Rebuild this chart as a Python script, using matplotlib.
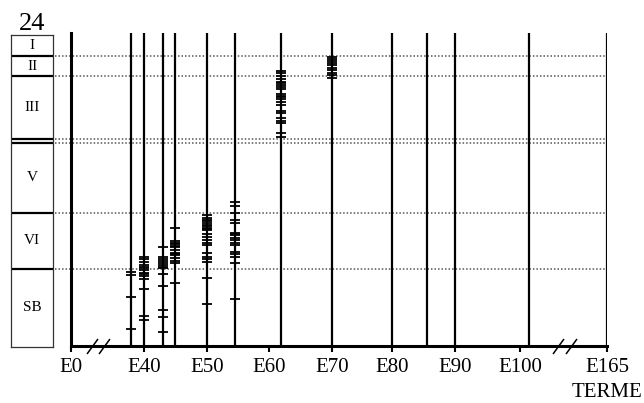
import numpy as np
import matplotlib.pyplot as plt

plt.rcParams['font.family'] = ['Liberation Serif', 'DejaVu Serif']

# vertical lines: one per embryonic day that was sampled
line_days = [38, 40, 43, 45, 50, 54.5, 62, 70, 80, 85.5, 90, 101.5, 165]
tick_days = [0, 40, 50, 60, 70, 80, 90, 100, 165]
tick_labels = ['E0', 'E40', 'E50', 'E60', 'E70', 'E80', 'E90', 'E100', 'E165']

# zones of the left column, top edge of each (same units as the y axis)
zone_names = ['I', 'II', 'III', 'IV', 'V', 'VI', 'SB']
zone_tops = [311, 290, 270, 207.5, 202.7, 133.5, 77.5]
zone_bottom = -1

# marks
marks_e38 = [74, 71.5, 49, 17]
marks_e40 = [89.5, 87, 84, 81.5, 79.5, 78, 76, 73.5, 72, 70.5, 67.5, 57, 30, 26]
marks_e43 = [99.3, 89, 87, 85, 83, 81, 79.5, 77.7, 71.7, 60.3, 36, 29.3, 14.3]
marks_e45 = [118.3, 105, 103.5, 101.7, 100, 98.7, 96, 93.3, 92, 90.7, 87.7, 85.3, 82.7, 63]
marks_e50 = [131, 128.3, 126, 124.7, 123.5, 121, 120, 118.3, 117, 116, 111.7, 109.3,
             106, 103.3, 101, 93, 89.5, 87, 84.5, 68.3, 42.5]
marks_e54 = [144.3, 140, 133.3, 126, 123.3, 113.3, 112, 111, 108.3, 106, 103.3, 101,
             94.3, 91.7, 89.3, 83.3, 46.7]
marks_e62 = [275.3, 272.7, 270, 267.3, 264.5, 262.7, 261, 259.3, 256.7, 251.7, 250.5,
             249.3, 247, 244.3, 241, 235.5, 233, 227.7, 225.3, 223.3, 213.3, 208.7]
marks_e70 = [289.3, 287.5, 285.5, 283.5, 281, 278.5, 276, 273.5, 270.7, 268.5]

mark_sets = [(38, marks_e38), (40, marks_e40), (43, marks_e43), (45, marks_e45),
             (50, marks_e50), (54.5, marks_e54), (62, marks_e62), (70, marks_e70)]

# broken x axis: days -> drawing position
scale_days = [0, 36, 40, 50, 60, 70, 80, 90, 100, 104, 165]
scale_pos = [71, 118.9, 144, 206.7, 268.7, 332, 391.7, 455, 520, 545, 607.3]


def fwd(x):
    return np.interp(x, scale_days, scale_pos)


def inv(p):
    return np.interp(p, scale_pos, scale_days)


W, H = 644, 403
fig = plt.figure(figsize=(W / 100, H / 100), dpi=100)

ax = fig.add_axes([71 / W, (H - 346) / H, (607.3 - 71) / W, 313 / H])
ax.set_xscale('function', functions=(fwd, inv))
ax.set_xlim(0, 165)
ax.set_ylim(0, 313)

# dotted zone boundaries, starting just right of the column
for y in zone_tops[1:]:
    ax.plot([-0.03, 1.0], [y, y], transform=ax.get_yaxis_transform(),
            ls=(0, (1, 1.3)), lw=1.1, color='#555555', clip_on=False, zorder=1)

for d in line_days:
    ax.axvline(d, color='black', lw=1.6, zorder=2)

for d, ys in mark_sets:
    ax.plot([d] * len(ys), ys, ls='none', marker='_', ms=7.2, mew=1.3,
            color='black', zorder=3)

for side in ['top', 'right']:
    ax.spines[side].set_visible(False)
for side in ['left', 'bottom']:
    ax.spines[side].set_linewidth(2.2)

ax.set_yticks([])
ax.set_xticks(tick_days)
ax.set_xticklabels(tick_labels, fontsize=15)
ax.tick_params(axis='x', direction='out', length=4.5, width=1.5, pad=4)

ax.annotate('TERME', xy=(165, 0), xycoords=('data', 'axes fraction'),
            xytext=(0, -37), textcoords='offset pixels',
            ha='center', va='top', fontsize=15)

# slashes marking the axis breaks
slash = [(-0.73, -1), (0.73, 1)]
ax.plot([15.6, 25, 117, 129.3], [0, 0, 0, 0], ls='none', marker=slash,
        ms=10.8, mew=1.1, color='black', clip_on=False, zorder=4)

# left column with the zones
bx = fig.add_axes([11 / W, (H - 347) / H, 42.3 / W, 312 / H])
bx.set_xlim(0, 1)
bx.set_ylim(zone_bottom, zone_tops[0])
bx.set_xticks([])
bx.set_yticks([])
for s in bx.spines.values():
    s.set_linewidth(0.9)
    s.set_color('#333333')
for y in zone_tops[1:]:
    bx.axhline(y, color='black', lw=1.6)

lows = zone_tops[1:] + [zone_bottom]
for name, top, low in zip(zone_names, zone_tops, lows):
    if top - low > 10:
        bx.text(0.5, (top + low) / 2, name, ha='center', va='center', fontsize=11)

bx.annotate('24', xy=(0.5, 1), xycoords='axes fraction', xytext=(0, 5),
            textcoords='offset pixels', ha='center', va='baseline', fontsize=19)

fig.savefig('out.png', dpi=100)
